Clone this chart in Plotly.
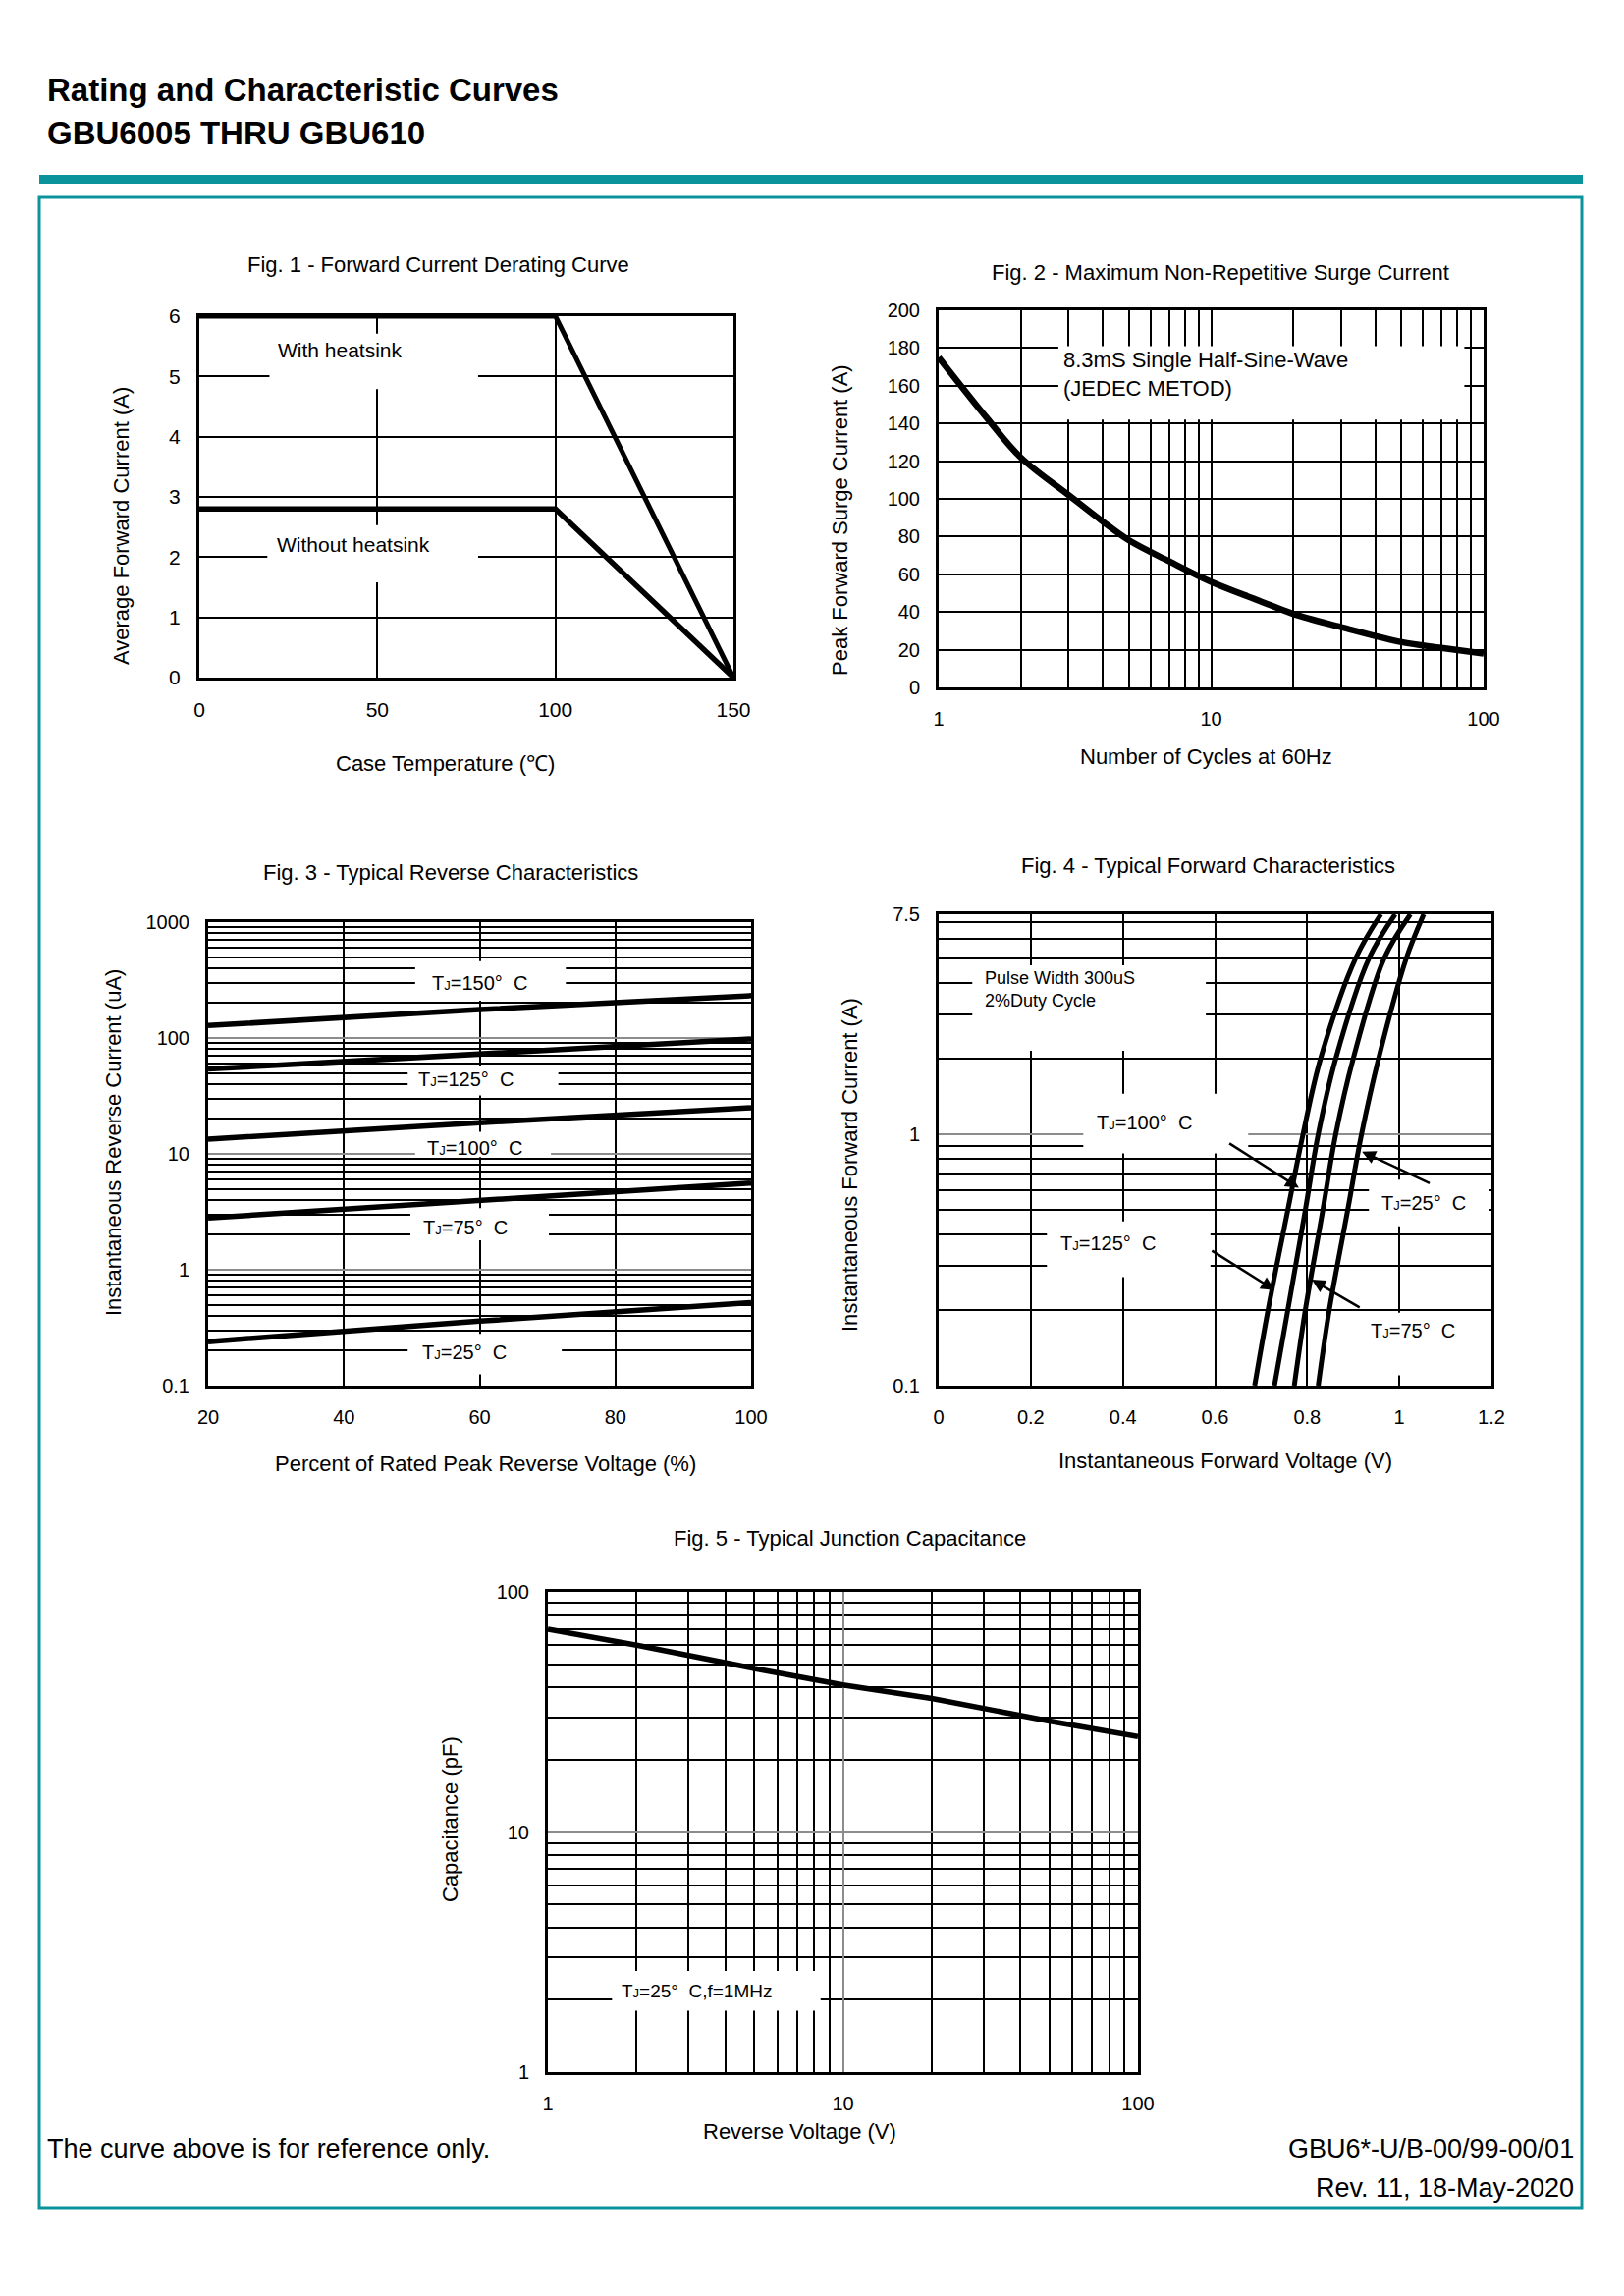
import numpy as np
import plotly.graph_objects as go

W, H = 1654, 2338
FONT = "Liberation Sans, Arial, sans-serif"
TEAL = "#0b939c"
GRAY = "#8c8c8c"

# ---------------- data ----------------
fig1_case_temp = [0, 100, 150]
fig1_with_heatsink = [6.0, 6.0, 0.0]
fig1_without_heatsink = [2.8, 2.8, 0.0]

fig2_cycles = [1, 1.5, 2, 3, 4, 5, 7, 10, 15, 20, 30, 50, 70, 100]
fig2_surge = [175, 143, 122, 102, 88, 78, 67, 56, 46, 39, 32, 24, 21, 18]

fig3_pct_voltage = [20, 60, 100]
fig3_ir_150 = [128, 176, 232]
fig3_ir_125 = [54, 72, 98]
fig3_ir_100 = [13.4, 18.6, 25]
fig3_ir_75 = [2.8, 4.0, 5.6]
fig3_ir_25 = [0.24, 0.36, 0.52]

fig4_current = [0.1, 0.2, 0.5, 1, 2, 5, 7.5]
fig4_vf_125 = [0.686, 0.715, 0.758, 0.791, 0.829, 0.905, 0.960]
fig4_vf_100 = [0.729, 0.758, 0.796, 0.824, 0.862, 0.934, 0.991]
fig4_vf_75 = [0.772, 0.796, 0.834, 0.862, 0.900, 0.967, 1.024]
fig4_vf_25 = [0.824, 0.848, 0.888, 0.918, 0.955, 1.015, 1.053]

fig5_voltage = [1, 2, 5, 10, 20, 50, 100]
fig5_capacitance = [70, 60, 48, 41, 36, 29, 25]

fig1_xticks = [0, 50, 100, 150]
fig1_yticks = [0, 1, 2, 3, 4, 5, 6]
fig2_xticks = [1, 10, 100]
fig2_xminor = [2, 3, 4, 5, 6, 7, 8, 9, 20, 30, 40, 50, 60, 70, 80, 90]
fig2_yticks = list(range(0, 201, 20))
fig3_xticks = [20, 40, 60, 80, 100]
fig3_yticks = [0.1, 1, 10, 100, 1000]
fig3_ytext = ["0.1", "1", "10", "100", "1000"]
fig3_yminor = [m * d for d in (0.1, 1, 10, 100) for m in range(2, 10)]
fig4_xticks = [0, 0.2, 0.4, 0.6, 0.8, 1.0, 1.2]
fig4_xtext = ["0", "0.2", "0.4", "0.6", "0.8", "1", "1.2"]
fig4_yticks = [0.1, 1, 7.5]
fig4_ytext = ["0.1", "1", "7.5"]
fig4_yminor = [0.2, 0.3, 0.4, 0.5, 0.6, 0.7, 0.8, 0.9, 2, 3, 4, 5, 6, 7]
fig5_ticks = [1, 10, 100]
fig5_minor = [2, 3, 4, 5, 6, 7, 8, 9, 20, 30, 40, 50, 60, 70, 80, 90]


def dom_x(a, b):
    return [a / W, b / W]


def dom_y(top, bottom):
    return [1 - bottom / H, 1 - top / H]


def px(x):
    return x / W


def py(y):
    return 1 - y / H


def lg(v):
    return float(np.log10(v))


def axis(**kw):
    base = dict(showline=True, linewidth=3, linecolor="black", mirror=True,
                ticks="", showgrid=True, gridcolor="black", gridwidth=2,
                zeroline=False, fixedrange=True, ticklabelstandoff=12,
                automargin=False,
                tickfont=dict(family=FONT, size=20, color="black"))
    base.update(kw)
    return base


fig = go.Figure()


def line(x, y, xa, ya, w=5, shape="linear"):
    fig.add_trace(go.Scatter(x=x, y=y, mode="lines", xaxis=xa, yaxis=ya,
                             line=dict(color="black", width=w, shape=shape),
                             showlegend=False, hoverinfo="skip"))


# Fig 1
line(fig1_case_temp, fig1_with_heatsink, "x", "y")
line(fig1_case_temp, fig1_without_heatsink, "x", "y", w=5.5)
# Fig 2
line(fig2_cycles, fig2_surge, "x2", "y2", w=6.5, shape="spline")
# Fig 3
for s in (fig3_ir_150, fig3_ir_125, fig3_ir_100, fig3_ir_75, fig3_ir_25):
    line(fig3_pct_voltage, s, "x3", "y3", w=5.5)
# Fig 4
for s in (fig4_vf_125, fig4_vf_100, fig4_vf_75, fig4_vf_25):
    line(s, fig4_current, "x4", "y4", w=5, shape="spline")
# Fig 5
line(fig5_voltage, fig5_capacitance, "x5", "y5", w=5.5)

layout = dict(
    width=W, height=H, autosize=False,
    margin=dict(l=0, r=0, t=0, b=0, pad=0, autoexpand=False),
    paper_bgcolor="white", plot_bgcolor="white", showlegend=False,
    font=dict(family=FONT, color="black"),
    xaxis=axis(domain=dom_x(203, 747), anchor="y", range=[0, 150],
               tickvals=fig1_xticks, tickfont=dict(family=FONT, size=21, color="black")),
    yaxis=axis(domain=dom_y(322, 690), anchor="x", range=[0, 6],
               tickvals=fig1_yticks, tickfont=dict(family=FONT, size=21, color="black")),
    xaxis2=axis(domain=dom_x(956, 1511), anchor="y2", type="log", range=[0, 2],
                tickvals=fig2_xticks, ticktext=["1", "10", "100"],
                minor=dict(tickvals=fig2_xminor, showgrid=True, gridcolor="black",
                           gridwidth=2, ticks="")),
    yaxis2=axis(domain=dom_y(316, 700), anchor="x2", range=[0, 200],
                tickvals=fig2_yticks),
    xaxis3=axis(domain=dom_x(212, 765), anchor="y3", range=[20, 100],
                tickvals=fig3_xticks),
    yaxis3=axis(domain=dom_y(939, 1411), anchor="x3", type="log", range=[-1, 3],
                tickvals=fig3_yticks, ticktext=fig3_ytext, gridcolor=GRAY,
                minor=dict(tickvals=fig3_yminor, showgrid=True, gridcolor="black",
                           gridwidth=2, ticks="")),
    xaxis4=axis(domain=dom_x(956, 1519), anchor="y4", range=[0, 1.2],
                tickvals=fig4_xticks, ticktext=fig4_xtext),
    yaxis4=axis(domain=dom_y(931, 1411), anchor="x4", type="log",
                range=[-1, lg(7.5)],
                tickvals=fig4_yticks, ticktext=fig4_ytext, gridcolor=GRAY,
                minor=dict(tickvals=fig4_yminor, showgrid=True, gridcolor="black",
                           gridwidth=2, ticks="")),
    xaxis5=axis(domain=dom_x(558, 1159), anchor="y5", type="log", range=[0, 2],
                tickvals=fig5_ticks, ticktext=["1", "10", "100"], gridcolor=GRAY,
                minor=dict(tickvals=fig5_minor, showgrid=True, gridcolor="black",
                           gridwidth=2, ticks="")),
    yaxis5=axis(domain=dom_y(1621, 2110), anchor="x5", type="log", range=[0, 2],
                tickvals=fig5_ticks, ticktext=["1", "10", "100"], gridcolor=GRAY,
                minor=dict(tickvals=fig5_minor, showgrid=True, gridcolor="black",
                           gridwidth=2, ticks="")),
)

shapes = []
# page decoration
shapes.append(dict(type="rect", xref="paper", yref="paper", x0=px(40), x1=px(1612),
                   y0=py(187), y1=py(178), fillcolor=TEAL, line=dict(width=0)))
shapes.append(dict(type="rect", xref="paper", yref="paper", x0=px(40), x1=px(1611),
                   y0=py(2248), y1=py(201), line=dict(color=TEAL, width=3)))


def mask(xr, yr, x0, x1, y0, y1):
    shapes.append(dict(type="rect", xref=xr, yref=yr, x0=x0, x1=x1, y0=y0, y1=y1,
                       fillcolor="white", line=dict(width=0), layer="between"))


# label backgrounds (interrupt grid lines)
mask("x", "y", 19.7, 78.3, 4.79, 5.71)
mask("x", "y", 19.1, 78.3, 1.58, 2.53)
mask("x2", "y2", 2.75, 85, 142, 181)
mask("x3", "y3", 50.5, 72.7, 210, 460)
mask("x3", "y3", 49.4, 71.6, 32, 58)
mask("x3", "y3", 50.5, 70.5, 9.4, 15.5)
mask("x3", "y3", 49.8, 70.2, 1.8, 3.4)
mask("x3", "y3", 49.4, 72.1, 0.125, 0.28)
mask("x4", "y4", 0.073, 0.58, 2.15, 4.7)
mask("x4", "y4", 0.314, 0.672, 0.84, 1.45)
mask("x4", "y4", 0.235, 0.59, 0.27, 0.45)
mask("x4", "y4", 0.934, 1.195, 0.43, 0.66)
mask("x4", "y4", 0.93, 1.19, 0.11, 0.195)
mask("x5", "y5", 1.65, 8.4, 1.8, 2.64)

ann = []


def text(x, y, s, size=22, xanchor="center", yanchor="middle", angle=0, bold=False):
    if bold:
        s = "<b>" + s + "</b>"
    ann.append(dict(xref="paper", yref="paper", x=px(x), y=py(y), text=s,
                    showarrow=False, xanchor=xanchor, yanchor=yanchor, textangle=angle,
                    font=dict(family=FONT, size=size, color="black")))


def dtext(xr, yr, x, y, s, size=20, xanchor="center", align="center"):
    ann.append(dict(xref=xr, yref=yr, x=x, y=y, text=s, showarrow=False,
                    xanchor=xanchor, yanchor="middle", align=align,
                    font=dict(family=FONT, size=size, color="black")))


def arrow(x, y, ax, ay):
    ann.append(dict(xref="x4", yref="y4", axref="x4", ayref="y4",
                    x=x, y=lg(y), ax=ax, ay=lg(ay),
                    text="", showarrow=True, arrowhead=2, arrowsize=1.1,
                    arrowwidth=2.5, arrowcolor="black", standoff=0))


# header / footer
text(46, 92, "Rating and Characteristic Curves", size=33, xanchor="left", bold=True)
text(46, 136, "GBU6005 THRU GBU610", size=33, xanchor="left", bold=True)
text(46, 2188, "The curve above is for reference only.", size=27, xanchor="left")
text(1605, 2188, "GBU6*-U/B-00/99-00/01", size=27, xanchor="right")
text(1605, 2228, "Rev. 11, 18-May-2020", size=27, xanchor="right")

# figure titles
text(447, 270, "Fig. 1 - Forward Current Derating Curve", size=22)
text(1243, 277, "Fig. 2 - Maximum Non-Repetitive Surge Current", size=22)
text(459, 889, "Fig. 3 - Typical Reverse Characteristics", size=22)
text(1230, 881, "Fig. 4 - Typical Forward Characteristics", size=22)
text(865, 1566, "Fig. 5 - Typical Junction Capacitance", size=22)

# axis titles
text(124, 536, "Average Forward Current (A)", size=22, angle=-90)
text(453, 777, "Case Temperature (\u2103)", size=22)
text(856, 530, "Peak Forward Surge Current (A)", size=22, angle=-90)
text(1228, 770, "Number of Cycles at 60Hz", size=22)
text(115, 1163, "Instantaneous Reverse Current (uA)", size=22, angle=-90)
text(494, 1490, "Percent of Rated Peak Reverse Voltage (%)", size=22)
text(865, 1186, "Instantaneous Forward Current (A)", size=22, angle=-90)
text(1248, 1487, "Instantaneous Forward Voltage (V)", size=22)
text(458, 1852, "Capacitance (pF)", size=22, angle=-90)
text(814, 2170, "Reverse Voltage (V)", size=22)

TJ = "T<span style='font-size:13px'>J</span>="
DEG = "\u00b0\u00a0\u00a0C"

# in-plot labels
dtext("x", "y", 21.6, 5.43, "With heatsink", size=21, xanchor="left")
dtext("x", "y", 21.3, 2.21, "Without heatsink", size=21, xanchor="left")
dtext("x2", "y2", lg(2.83), 166, "8.3mS Single Half-Sine-Wave<br>(JEDEC METOD)", size=22,
      xanchor="left", align="left")
dtext("x3", "y3", 60, lg(300), TJ + "150" + DEG)
dtext("x3", "y3", 58, lg(44), TJ + "125" + DEG)
dtext("x3", "y3", 59.3, lg(11.3), TJ + "100" + DEG)
dtext("x3", "y3", 57.9, lg(2.3), TJ + "75" + DEG)
dtext("x3", "y3", 57.8, lg(0.196), TJ + "25" + DEG)
dtext("x4", "y4", 0.095, lg(3.76), "Pulse Width 300uS<br>2%Duty Cycle", size=18,
      xanchor="left", align="left")
dtext("x4", "y4", 0.447, lg(1.11), TJ + "100" + DEG)
dtext("x4", "y4", 0.368, lg(0.367), TJ + "125" + DEG)
dtext("x4", "y4", 1.053, lg(0.532), TJ + "25" + DEG)
dtext("x4", "y4", 1.029, lg(0.165), TJ + "75" + DEG)
dtext("x5", "y5", lg(3.2), lg(2.18), TJ + "25\u00b0\u00a0\u00a0C,f=1MHz", size=19)

arrow(0.782, 0.612, 0.628, 0.927)
arrow(0.729, 0.240, 0.590, 0.347)
arrow(0.919, 0.853, 1.069, 0.635)
arrow(0.810, 0.264, 0.917, 0.203)

layout["shapes"] = shapes
layout["annotations"] = ann
fig.update_layout(**layout)
fig.write_html(
    "out.html",
    config={"displayModeBar": False, "responsive": False},
    post_script="document.documentElement.style.margin='0';"
                "document.body.style.margin='0';document.body.style.padding='0';"
                "document.body.style.overflow='hidden';"
                "document.documentElement.style.overflow='hidden';",
)
